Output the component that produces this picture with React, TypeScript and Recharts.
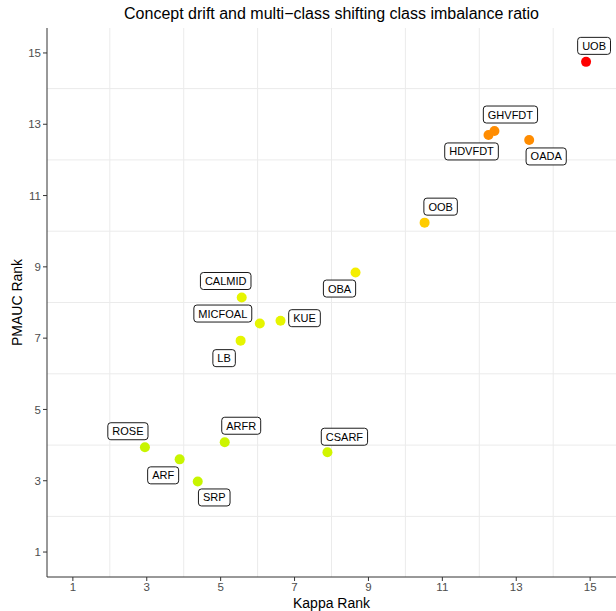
import React from 'react';
import { ScatterChart, Scatter, XAxis, YAxis, CartesianGrid } from 'recharts';

const methods = ['UOB', 'GHVFDT', 'HDVFDT', 'OADA', 'OOB', 'OBA', 'CALMID', 'MICFOAL', 'KUE', 'LB', 'ROSE', 'ARFR', 'ARF', 'SRP', 'CSARF'];
const kappaRank = [14.89, 12.41, 12.25, 13.35, 10.52, 8.65, 5.57, 6.06, 6.62, 5.54, 2.95, 5.11, 3.89, 4.38, 7.89];
const pmaucRank = [14.75, 12.81, 12.7, 12.56, 10.24, 8.84, 8.14, 7.41, 7.49, 6.93, 3.94, 4.08, 3.6, 2.98, 3.8];
const pointColors = ['#FF0000', '#FF8C00', '#FF8C00', '#FF8C00', '#FFCC00', '#F5EE00', '#E6F500', '#E6F500', '#E6F500', '#E6F500', '#C8F500', '#CCF500', '#C8F500', '#C8F500', '#D2F500'];
const xTicks = [1, 3, 5, 7, 9, 11, 13, 15];
const yTicks = [1, 3, 5, 7, 9, 11, 13, 15];
const gridValues = [2, 4, 6, 8, 10, 12, 14];

// label box offsets (px) relative to each point, mimicking ggrepel placement
const labelOffsets: Record<string, [number, number]> = {
  UOB: [8, -16],
  GHVFDT: [16, -16.5],
  HDVFDT: [-17, 16.5],
  OADA: [17, 16.5],
  OOB: [16, -16],
  OBA: [-16, 16],
  CALMID: [-16, -16.5],
  MICFOAL: [-37, -10],
  KUE: [24, -2.5],
  LB: [-16.5, 17.5],
  ROSE: [-17, -16],
  ARFR: [16.5, -16.5],
  ARF: [-16.5, 16],
  SRP: [16.5, 16],
  CSARF: [17, -15.5],
};

const data = methods.map((name, i) => ({ name, x: kappaRank[i], y: pmaucRank[i], color: pointColors[i] }));

const FONT = "'Liberation Sans', Arial, Helvetica, sans-serif";

let ctx: CanvasRenderingContext2D | null = null;
function measure(text: string, size: number) {
  if (!ctx) {
    const c = document.createElement('canvas');
    ctx = c.getContext('2d');
  }
  if (!ctx) return text.length * size * 0.6;
  ctx.font = `${size}px ${FONT}`;
  return ctx.measureText(text).width;
}

const Dot = (props: any) => {
  const { cx, cy, payload } = props;
  return <circle cx={cx} cy={cy} r={5} fill={payload.color} />;
};

const LabelBox = (props: any) => {
  const { cx, cy, payload } = props;
  const [dx, dy] = labelOffsets[payload.name] || [0, 0];
  const w = measure(payload.name, 11) + 9;
  const h = 17;
  const x = cx + dx;
  const y = cy + dy;
  return (
    <g>
      <rect x={x - w / 2} y={y - h / 2} width={w} height={h} rx={3} ry={3} fill="#fff" stroke="#000" strokeWidth={0.9} />
      <text x={x} y={y + 4} textAnchor="middle" fontSize={11} fontFamily={FONT} fill="#000">{payload.name}</text>
    </g>
  );
};

export default function App() {
  return (
    <div style={{ position: 'absolute', left: 0, top: 0, width: 616, height: 611, background: '#fff', fontFamily: FONT }}>
      <div style={{ position: 'absolute', left: 47, width: 569, top: 4, textAlign: 'center', fontSize: 16, color: '#000', lineHeight: '19px' }}>
        Concept drift and multi−class shifting class imbalance ratio
      </div>
      <ScatterChart width={616} height={611} margin={{ top: 28, right: 0, bottom: 0, left: 0 }}>
        <CartesianGrid stroke="#EBEBEB" strokeWidth={1} horizontalValues={gridValues} verticalValues={gridValues} />
        <XAxis
          type="number"
          dataKey="x"
          domain={[0.3, 15.7]}
          ticks={xTicks}
          allowDataOverflow
          height={34}
          tickSize={4}
          stroke="#333"
          tickLine={{ stroke: '#333' }}
          tick={{ fill: '#4D4D4D', fontSize: 11.5, fontFamily: FONT }}
          label={{ value: 'Kappa Rank', position: 'insideBottom', offset: 3, fill: '#000', fontSize: 14, fontFamily: FONT }}
        />
        <YAxis
          type="number"
          dataKey="y"
          domain={[0.3, 15.7]}
          ticks={yTicks}
          allowDataOverflow
          width={47}
          tickSize={4}
          stroke="#333"
          tickLine={{ stroke: '#333' }}
          tick={{ fill: '#4D4D4D', fontSize: 11.5, fontFamily: FONT }}
          label={{ value: 'PMAUC Rank', angle: -90, position: 'insideLeft', offset: 17, fill: '#000', fontSize: 14, fontFamily: FONT, style: { textAnchor: 'middle' } }}
        />
        <Scatter data={data} shape={Dot} isAnimationActive={false} />
        <Scatter data={data} shape={LabelBox} isAnimationActive={false} />
      </ScatterChart>
    </div>
  );
}
